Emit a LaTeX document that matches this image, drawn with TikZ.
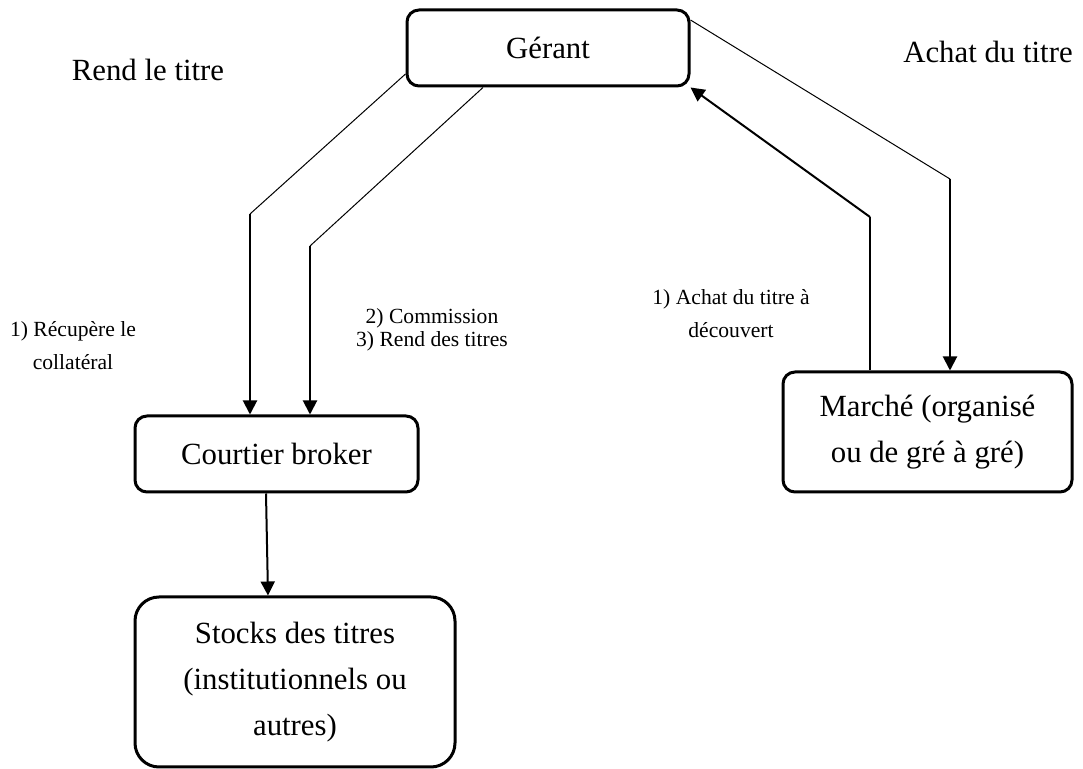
\documentclass[tikz,border=0pt]{standalone}
\usepackage{fontspec}
\setmainfont{Liberation Serif}
\usetikzlibrary{arrows.meta}
\begin{document}
\begin{tikzpicture}[x=0.5pt,y=-0.5pt,
  box/.style={draw,line width=1.5pt,rounded corners=6pt,align=center,inner sep=0pt,
    font=\fontsize{15.4}{23}\selectfont},
  lbl/.style={align=center,inner sep=0pt,font=\fontsize{10.8}{16.5}\selectfont},
  big/.style={inner sep=0pt,font=\fontsize{15.4}{23}\selectfont},
  thinline/.style={line width=0.5pt},
  arr/.style={line width=1pt,-{Triangle[length=7pt,width=7pt]}}]
\useasboundingbox (0,0) rectangle (1083,769);

% boxes
\node[box,minimum width=141pt,minimum height=38pt] (gerant) at (548,48) {Gérant};
\node[box,minimum width=141.5pt,minimum height=38pt] (courtier) at (276.5,454) {Courtier broker};
\node[box,minimum width=144.5pt,minimum height=60pt] (marche) at (927.5,432) {Marché (organisé\\ou de gré à gré)};
\node[box,rounded corners=12pt,minimum width=160pt,minimum height=85pt] (stocks) at (295,682)
  {Stocks des titres\\(institutionnels ou\\autres)};

% free labels
\node[big] (rend) at (148,70) {Rend le titre};
\node[big] (achat) at (988,52) {Achat du titre};
\node[lbl] (recup) at (73,346) {1) Récupère le\\collatéral};
\node[lbl,font=\fontsize{10.8}{11.5}\selectfont] (comm) at (432,330) {2) Commission\\3) Rend des titres};
\node[lbl] (decouv) at (731,314) {1) Achat du titre à\\découvert};

% bend points
\coordinate (b1) at (250,214);
\coordinate (b2) at (310,246);
\coordinate (b3) at (950,179);
\coordinate (b4) at (870,217);

% connectors
\draw[thinline] (gerant.west |- 0,74) -- (b1);
\draw[arr] (b1) -- (b1 |- courtier.north);
\draw[thinline] (gerant.south -| 483,0) -- (b2);
\draw[arr] (b2) -- (b2 |- courtier.north);
\draw[thinline] (gerant.east |- 0,20) -- (b3);
\draw[arr] (b3) -- (b3 |- marche.north);
\draw[line width=1pt] (marche.north -| b4) -- (b4);
\draw[arr] (b4) -- (gerant.south east);
\draw[arr] (courtier.south -| 266,0) -- (stocks.north -| 268,0);
\end{tikzpicture}
\end{document}
